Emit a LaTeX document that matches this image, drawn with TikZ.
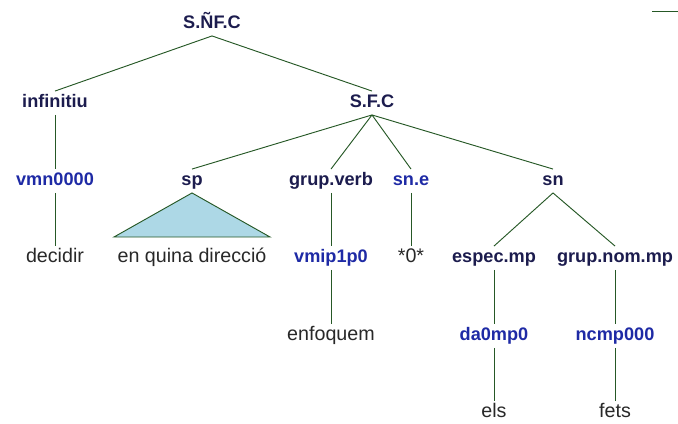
\documentclass[tikz,border=0pt]{standalone}
\usepackage{fontspec}
\setmainfont{Liberation Sans}
\definecolor{catcol}{RGB}{28,28,78}
\definecolor{tagcol}{RGB}{30,42,165}
\definecolor{wordcol}{RGB}{40,40,40}
\definecolor{edgecol}{RGB}{38,88,38}
\definecolor{tricol}{RGB}{173,216,230}
\tikzset{
	cat/.style={font=\fontsize{15.5}{18}\selectfont\bfseries,text=catcol,inner xsep=0pt,inner ysep=3pt,text height=11pt,text depth=3pt},
	tag/.style={cat,text=tagcol},
	word/.style={font=\fontsize{16.8}{18}\selectfont,text=wordcol,inner xsep=0pt,inner ysep=3pt,text height=11pt,text depth=3pt},
	edge/.style={draw=edgecol,line width=0.8pt}
}
\begin{document}
\begin{tikzpicture}[x=0.03cm,y=-0.03cm]
	\useasboundingbox (0,0) rectangle (678,423);
	\node[cat] (snfc) at (212,24) {S.ÑF.C};
	\node[cat] (inf) at (55,103) {infinitiu};
	\node[cat] (sfc) at (372,103) {S.F.C};
	\node[tag] (vmn) at (55,181) {vmn0000};
	\node[cat] (sp) at (192,181) {sp};
	\node[cat] (gv) at (331,181) {grup.verb};
	\node[tag] (sne) at (411,181) {sn.e};
	\node[cat] (sn) at (553,181) {sn};
	\node[word] (dec) at (55,258) {decidir};
	\node[word] (enq) at (192,258) {en quina direcció};
	\node[tag] (vmip) at (331,258) {vmip1p0};
	\node[word] (zero) at (411,258) {*0*};
	\node[cat] (espec) at (494,258) {espec.mp};
	\node[cat] (gnom) at (615,258) {grup.nom.mp};
	\node[word] (enf) at (331,336) {enfoquem};
	\node[tag] (da) at (494,336) {da0mp0};
	\node[tag] (nc) at (615,336) {ncmp000};
	\node[word] (els) at (494,413) {els};
	\node[word] (fets) at (615,413) {fets};
	\coordinate (trl) at (114,237);
	\coordinate (trr) at (270,237);
	\coordinate (marka) at (652,11);
	\coordinate (markb) at (678,11);
	% tree edges
	\draw[edge] (inf.north) -- (snfc.south) -- (sfc.north);
	\draw[edge] (inf.south) -- (vmn.north);
	\draw[edge] (vmn.south) -- (dec.north);
	\foreach \k in {sp,gv,sne,sn}
		\draw[edge] (sfc.south) -- (\k.north);
	\draw[edge,fill=tricol] (sp.south) -- (trl) -- (trr) -- cycle;
	\draw[edge] (gv.south) -- (vmip.north);
	\draw[edge] (vmip.south) -- (enf.north);
	\draw[edge] (sne.south) -- (zero.north);
	\draw[edge] (espec.north) -- (sn.south) -- (gnom.north);
	\draw[edge] (espec.south) -- (da.north);
	\draw[edge] (da.south) -- (els.north);
	\draw[edge] (gnom.south) -- (nc.north);
	\draw[edge] (nc.south) -- (fets.north);
	\draw[edge] (marka) -- (markb);
\end{tikzpicture}
\end{document}
